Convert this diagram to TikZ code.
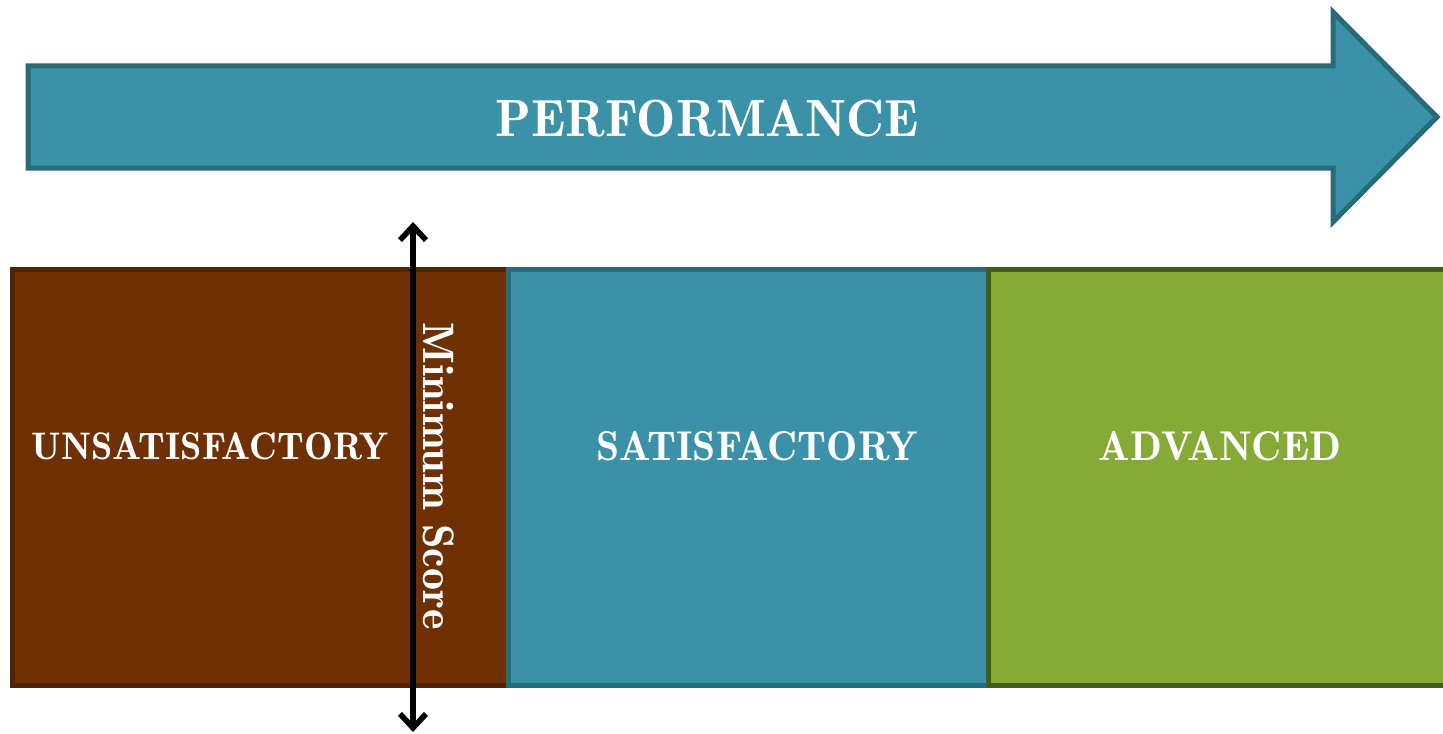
\documentclass[tikz,border=0pt]{standalone}
\usepackage{fontspec}
\usetikzlibrary{arrows.meta}

\definecolor{tealfill}{HTML}{3B91A7}
\definecolor{tealline}{HTML}{276A79}
\definecolor{brownfill}{HTML}{6F3104}
\definecolor{brownline}{HTML}{4F2303}
\definecolor{greenfill}{HTML}{86AA36}
\definecolor{greenline}{HTML}{445B1E}

\begin{document}
\begin{tikzpicture}[x=0.5pt,y=-0.5pt,
  band/.style={line width=2.5pt},
  bandlabel/.style={text=white,anchor=base,font=\fontsize{20.8}{24}\fontseries{b}\selectfont},
  headlabel/.style={text=white,anchor=base,font=\fontsize{26.2}{30}\fontseries{b}\selectfont},
  scorelabel/.style={text=white,rotate=-90,inner sep=0pt,font=\fontsize{22}{26}\fontseries{b}\selectfont},
  scorebarb/.tip={Straight Barb[length=7pt,width=13pt]}]
\useasboundingbox (0,0) rectangle (1443,733);

% ==== Performance arrow ====
\draw[band, fill=tealfill, draw=tealline]
  (28,66) -- (1333,66) -- (1333,12) -- (1437,117) -- (1333,222) -- (1333,168) -- (28,168) -- cycle;
\node[headlabel] (perf) at (707,136) {PERFORMANCE};

% ==== Bands ====
\draw[band, fill=brownfill, draw=brownline] (12,269) rectangle (508,685);
\draw[band, fill=tealfill, draw=tealline] (508,269) rectangle (988,685);
\draw[band, fill=greenfill, draw=greenline] (988,269) rectangle (1460,685);

\node[bandlabel, font=\fontsize{19.2}{23}\fontseries{b}\selectfont] (unsat) at (210,459) {UNSATISFACTORY};
\node[bandlabel] (sat) at (757,460) {SATISFACTORY};
\node[bandlabel] (adv) at (1220,460) {ADVANCED};

% ==== Minimum score ====
\coordinate (mintop) at (413,222);
\coordinate (minbot) at (413,732);
\draw[line width=2.8pt, scorebarb-scorebarb] (mintop) -- (minbot);
\node[scorelabel] (minscore) at (439,476) {Minimum Score};

\end{tikzpicture}
\end{document}
